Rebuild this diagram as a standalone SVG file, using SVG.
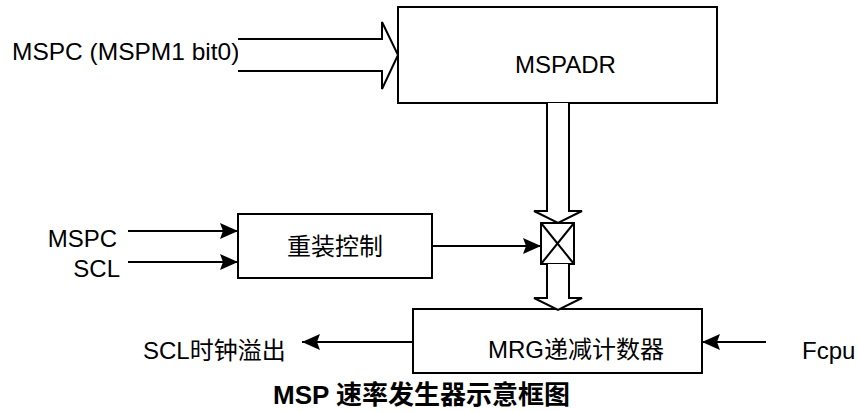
<svg xmlns="http://www.w3.org/2000/svg" width="859" height="412" viewBox="0 0 859 412">
<style>
.box{fill:#fff;stroke:#000;stroke-width:2}
.ln{fill:none;stroke:#000;stroke-width:2}
.fat{fill:#fff;stroke:#000;stroke-width:2;stroke-linejoin:miter}
.t{font-family:"Liberation Sans","Noto Sans CJK SC",Arial,sans-serif;font-size:24px;fill:#000}
.cap{font-family:"Liberation Sans","Noto Sans CJK SC",Arial,sans-serif;font-size:26px;font-weight:bold;fill:#000}
</style>
<defs>
<marker id="ahb" viewBox="0 0 18 16" refX="18" refY="8" markerWidth="18" markerHeight="16" markerUnits="userSpaceOnUse" orient="auto">
<path d="M0,0 L18,8 L0,16 L3,8 Z" fill="#000"/>
</marker>
</defs>
<g id="mspadr">
<rect class="box" x="398" y="7" width="319" height="96"/>
<text class="t" x="515" y="73">MSPADR</text>
</g>
<g id="reload">
<rect class="box" x="238" y="214" width="194" height="64"/>
<text class="t" x="335" y="255" text-anchor="middle">重装控制</text>
</g>
<g id="mux">
<rect class="box" x="541" y="223" width="33" height="41"/>
<path class="ln" d="M541,223 L574,264 M574,223 L541,264" stroke-width="1.5"/>
</g>
<g id="mrg">
<rect class="box" x="413" y="309" width="289" height="64"/>
<text class="t" x="488" y="358">MRG递减计数器</text>
</g>
<g id="labels">
<text class="t" x="12" y="60" style="font-size:24.5px">MSPC (MSPM1 bit0)</text>
<text class="t" x="117" y="247" text-anchor="end">MSPC</text>
<text class="t" x="120" y="277" text-anchor="end">SCL</text>
<text class="t" x="143" y="359">SCL时钟溢出</text>
<text class="t" x="802" y="359">Fcpu</text>
<text class="cap" x="273" y="404">MSP 速率发生器示意框图</text>
</g>
<g id="connectors">
<path class="fat" d="M238,39 L382,39 L382,22 L398,55 L382,89 L382,71 L238,71"/>
<path class="fat" d="M547,103 L547,211 L534,211 L558,223 L582,211 L569,211 L569,103"/>
<path class="fat" d="M547,264 L547,298 L534,298 L558,310 L582,298 L569,298 L569,264"/>
<line class="ln" x1="128" y1="231" x2="238" y2="231" marker-end="url(#ahb)"/>
<line class="ln" x1="128" y1="262" x2="238" y2="262" marker-end="url(#ahb)"/>
<line class="ln" x1="432" y1="246" x2="541" y2="246" marker-end="url(#ahb)"/>
<line class="ln" x1="413" y1="342" x2="302" y2="342" marker-end="url(#ahb)"/>
<line class="ln" x1="766" y1="342" x2="702" y2="342" marker-end="url(#ahb)"/>
</g>
</svg>
